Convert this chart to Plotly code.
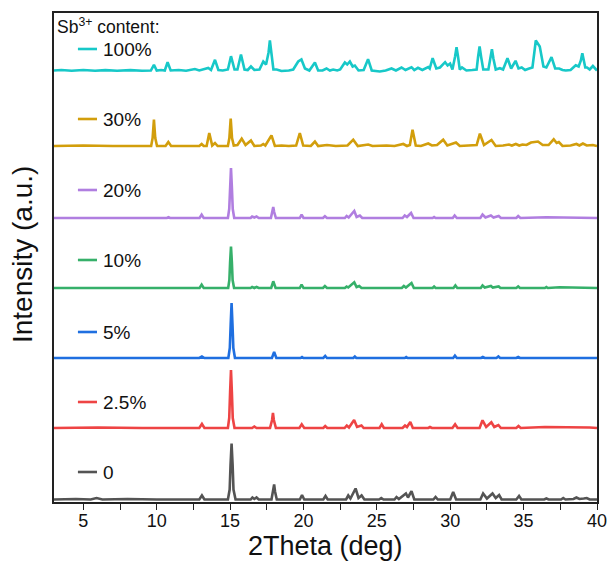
import plotly.graph_objects as go

# Stacked powder XRD patterns (2-theta in degrees, intensity in arbitrary units).
# Each pattern is a list of (2theta, intensity above its own baseline) vertices.

pattern_0 = [
    (3.0, 0), (4.5, 0.5), (5.5, 0), (5.9, 1.5), (6.3, 0), (8.0, 0.5), (10.0, 0), (12.0, 0.5),
    (12.9, 0), (13.08, 4), (13.25, 0), (14.85, 0), (14.97, 10), (15.03, 35), (15.1, 56),
    (15.17, 35), (15.23, 10), (15.37, 0), (16.4, 0),
    (16.52, 2), (16.65, 0.5), (16.8, 2), (16.95, 0), (17.82, 0), (17.94, 8), (18.0, 15),
    (18.06, 8), (18.18, 0),
    (19.75, 0), (19.9, 4.5), (20.05, 0), (21.35, 0), (21.5, 3.5), (21.65, 0), (22.9, 0),
    (23.05, 4), (23.2, 1), (23.55, 11), (23.75, 1.5), (23.96, 4), (24.15, 0), (25.15, 0),
    (25.3, 1.5), (25.45, 0), (26.2, 0), (26.34, 2.5), (26.5, 0.5), (26.98, 6), (27.12, 2),
    (27.36, 8.3), (27.55, 0), (28.85, 0), (29.0, 2.5), (29.15, 0), (30.0, 0), (30.2, 7.5),
    (30.4, 0), (32.05, 0), (32.24, 6), (32.5, 1), (32.88, 6), (33.1, 1.5), (33.33, 4.5),
    (33.5, 0), (34.5, 0), (34.69, 3.5), (34.85, 0), (36.4, 0), (36.55, 1), (36.7, 0),
    (37.55, 0), (37.7, 1.5), (37.85, 0), (38.4, 0.5), (38.6, 2), (38.8, 0.5), (39.1, 1),
    (39.3, 1.5), (39.5, 0), (40.0, 0),
]

pattern_2p5 = [
    (3.0, 0), (6.0, 0.5), (9.0, 0), (12.9, 0), (13.08, 4), (13.25, 0), (14.85, 0),
    (14.94, 10), (15.0, 36), (15.06, 58), (15.12, 36), (15.18, 10), (15.3, 0), (16.5, 0),
    (16.65, 1.5), (16.8, 0), (17.72, 0), (17.86, 8), (17.92, 15), (17.98, 8),
    (18.12, 0), (19.72, 0), (19.88, 3.7), (20.05, 0), (21.35, 0), (21.48, 2), (21.62, 0),
    (22.8, 0), (22.95, 2.5), (23.1, 0.5), (23.45, 8), (23.65, 1), (23.95, 2.5), (24.1, 0),
    (25.18, 0), (25.33, 3.7), (25.48, 0), (26.75, 0), (26.92, 2.5), (27.05, 1), (27.28, 6),
    (27.45, 0), (28.5, 0), (28.62, 1), (28.75, 0), (30.15, 0), (30.33, 3.7), (30.5, 0),
    (32.0, 0), (32.2, 7.7), (32.45, 1), (32.8, 5.7), (33.0, 1), (33.28, 3), (33.45, 0),
    (34.5, 0), (34.65, 2), (34.8, 0), (36.45, 1), (37.7, 1), (38.6, 1), (39.5, 0.5),
    (40.0, 0),
]

pattern_5 = [
    (3.0, 0), (12.9, 0), (13.08, 1.5), (13.25, 0), (14.88, 0), (14.98, 10), (15.04, 34),
    (15.1, 55), (15.16, 34), (15.22, 10), (15.33, 0),
    (17.85, 0), (18.0, 6), (18.15, 0), (19.8, 0), (19.9, 1), (20.0, 0), (21.35, 0),
    (21.48, 2), (21.6, 0), (23.4, 0), (23.5, 1.5), (23.6, 0), (26.9, 0), (27.0, 1),
    (27.1, 0), (30.2, 0), (30.32, 2.3), (30.45, 0), (32.1, 0), (32.22, 1), (32.35, 0),
    (33.15, 0), (33.28, 1.5), (33.4, 0), (34.5, 0), (34.63, 1), (34.75, 0), (40.0, 0),
]

pattern_10 = [
    (3.0, 0), (12.92, 0), (13.06, 3.3), (13.2, 0), (14.87, 0), (14.95, 8), (15.0, 26),
    (15.06, 41.5), (15.12, 26), (15.17, 8), (15.27, 0),
    (16.4, 0), (16.5, 1), (16.65, 0), (16.8, 1), (16.95, 0), (17.8, 0), (17.94, 6.7),
    (18.1, 0), (19.75, 0), (19.87, 3.5), (20.0, 0), (21.33, 0), (21.46, 2), (21.6, 0),
    (22.82, 0), (22.94, 1.5), (23.05, 0.5), (23.46, 5.7), (23.62, 1), (23.8, 2), (23.95, 0),
    (26.7, 0), (26.84, 2), (26.98, 0.5), (27.36, 5), (27.52, 0), (28.8, 0), (28.9, 1.5),
    (29.0, 0), (30.22, 0), (30.35, 2.5), (30.48, 0), (32.08, 0), (32.2, 2.5), (32.35, 0.5),
    (32.77, 2), (32.9, 0.5), (33.3, 1.5), (33.42, 0), (34.5, 0), (34.63, 1.5), (34.75, 0),
    (36.45, 0), (36.55, 1), (36.65, 0), (37.45, 0.7), (38.6, 0.5), (40.0, 0),
]

pattern_20 = [
    (3.0, 0), (10.7, 0), (10.8, 0.8), (10.9, 0), (12.92, 0), (13.06, 3.3), (13.2, 0),
    (14.85, 0), (14.94, 9), (15.0, 31), (15.06, 50), (15.12, 31), (15.18, 9), (15.28, 0),
    (16.4, 0), (16.5, 1.5), (16.65, 0.5), (16.8, 1.5),
    (16.95, 0), (17.78, 0), (17.88, 6), (17.94, 11), (18.0, 6), (18.12, 0), (19.75, 0),
    (19.87, 3.3), (20.0, 0),
    (21.33, 0), (21.46, 1.8), (21.6, 0), (22.82, 0), (22.94, 2), (23.08, 0.5), (23.46, 7),
    (23.62, 1), (23.84, 2.5), (24.0, 0), (26.75, 0), (26.9, 2.5), (27.05, 1), (27.33, 5),
    (27.5, 0), (28.8, 0), (28.9, 1), (29.0, 0), (30.17, 0), (30.3, 2.5), (30.45, 0),
    (32.05, 0), (32.2, 3.5), (32.4, 0.5), (32.77, 2.5), (32.95, 0.5), (33.3, 2), (33.45, 0),
    (34.5, 0), (34.63, 2), (34.78, 0), (36.55, 0.7), (38.5, 0.7), (40.0, 0),
]

pattern_30 = [
    (3.0, 0), (5.0, 0.5), (7.0, 0), (9.0, 0.5), (9.62, 0), (9.72, 8), (9.77, 18), (9.81, 26.5),
    (9.85, 18), (9.9, 8), (10.02, 0),
    (10.6, 0), (10.79, 4), (10.98, 0), (12.9, 0), (13.06, 2), (13.2, 0), (13.4, 0),
    (13.58, 13), (13.78, 0.5), (13.97, 3), (14.15, 0), (14.85, 0), (14.95, 8), (15.0, 19),
    (15.04, 27.3), (15.08, 19), (15.13, 8),
    (15.25, 0.5), (15.5, 1), (15.79, 7.3), (16.05, 1), (16.42, 5.5), (16.65, 0), (17.1, 0.5),
    (17.26, 2), (17.4, 0.5), (17.82, 10.7), (18.05, 0), (18.5, 0.5), (19.0, 0), (19.5, 0.5),
    (19.75, 13), (19.98, 0.5), (20.5, 0), (20.78, 4.5), (21.0, 0), (21.6, 1), (22.2, 0),
    (23.0, 0.5), (23.39, 6.3), (23.7, 0), (24.41, 1.5), (24.7, 0), (25.66, 0.5), (26.2, 0),
    (26.8, 2), (27.05, 0), (27.25, 1), (27.43, 16.3), (27.65, 0.5), (28.0, 0), (28.5, 2.5),
    (28.75, 0.5), (29.1, 1), (29.52, 6.3), (29.8, 0.5), (30.39, 3.5), (30.65, 0), (31.5, 0.5),
    (31.8, 1), (32.02, 12.3), (32.3, 1), (32.81, 6), (33.1, 0), (33.6, 0.5), (34.0, 1.5),
    (34.2, 0.5), (34.47, 2), (34.7, 0.5), (34.92, 1.5), (35.2, 1), (35.5, 3.5), (35.98, 4.5),
    (36.3, 1), (36.7, 1), (37.05, 6.7), (37.25, 3), (37.4, 4), (37.65, 0), (38.2, 0.5),
    (38.6, 2), (38.8, 0.5), (39.04, 2.5), (39.3, 0.5), (39.72, 1), (40.0, 0),
]

pattern_100 = [
    (3.0, 0), (3.5, 0.5), (4.2, -0.3), (5.0, 0.5), (5.8, -0.3), (6.5, 0.4), (7.3, -0.2),
    (8.2, 0.4), (9.0, -0.2), (9.6, 0), (9.81, 5.7), (10.0, 0), (10.3, 0.5), (10.55, 0),
    (10.74, 8.3), (10.95, 0), (11.5, 0.5), (12.0, -0.3), (12.6, 1.5), (12.9, 0), (13.51, 2.5),
    (13.7, 0.5), (13.97, 10.7), (14.2, 0.5), (14.5, 0), (14.85, 1), (15.06, 14.3), (15.3, 1),
    (15.5, 1), (15.74, 16), (15.98, 1), (16.2, 0.5), (16.42, 4), (16.65, 0.5), (17.0, 1),
    (17.26, 9), (17.45, 6), (17.62, 18), (17.71, 30), (17.8, 18), (17.95, 1), (18.17, 1),
    (18.5, -0.5), (19.0, 0),
    (19.3, 1), (19.64, 9), (19.86, 11), (20.1, 2), (20.4, 0), (20.78, 8), (21.0, 0),
    (21.3, 0), (21.57, 2), (21.8, 0), (22.02, 1), (22.3, 0), (22.5, 1), (22.82, 8),
    (22.98, 6), (23.16, 9), (23.35, 4), (23.5, 5), (23.75, 0), (24.1, 0.5), (24.4, 11.3),
    (24.65, 0), (25.2, -1), (25.6, 0), (26.0, 2), (26.3, 0), (26.68, 3), (26.95, 0.5),
    (27.36, 3.3), (27.55, 0.5), (27.8, 2.7), (28.1, 0.5), (28.5, 3.5), (28.6, 2), (28.8, 12.3),
    (29.05, 2), (29.3, 3), (29.65, 8.3), (29.82, 5), (29.99, 7), (30.15, 1), (30.33, 14),
    (30.43, 23.3), (30.53, 14),
    (30.65, 1), (30.8, 3), (31.1, 0), (31.5, 0.5), (31.8, 1), (31.9, 14), (32.0, 24),
    (32.1, 14), (32.25, 1), (32.6, 1), (32.74, 12), (32.84, 21.3), (32.94, 12), (33.1, 1),
    (33.38, 2.3), (33.6, 1), (33.9, 12.3), (34.15, 2),
    (34.45, 9.7), (34.65, 2), (34.87, 3), (35.1, 0.5), (35.38, 2), (35.6, 3), (35.73, 18),
    (35.83, 30), (36.1, 24), (36.35, 4), (36.55, 3), (36.9, 13.3), (37.15, 2), (37.42, 2),
    (37.65, 0.5), (37.87, 0), (38.2, 0.5), (38.55, 5.3), (38.75, 4), (38.9, 10), (39.0, 17.3),
    (39.1, 8), (39.2, 3), (39.32, 3), (39.5, 1), (39.72, 4.5), (39.9, 1), (40.0, 0),
]

labels = ["0", "2.5%", "5%", "10%", "20%", "30%", "100%"]
patterns = [pattern_0, pattern_2p5, pattern_5, pattern_10, pattern_20, pattern_30, pattern_100]
offsets = [2.5, 74, 144, 214, 284, 356, 431.5]
legend_y = [30, 100, 170, 242, 312, 383, 453]
colors = ["#545454", "#ee4444", "#1f6fe0", "#36b06a", "#b07ee0", "#d29e0c", "#17c8c8"]

FONT = "Arial, 'Liberation Sans', sans-serif"

fig = go.Figure()
for name, pat, off, col in zip(labels, patterns, offsets, colors):
    xs = [p[0] for p in pat]
    ys = [p[1] + off for p in pat]
    fig.add_trace(go.Scatter(x=xs, y=ys, mode="lines", name=name,
                             line=dict(color=col, width=2.6), showlegend=False))

# In-plot legend: short line sample followed by the label
for name, ly, col in zip(labels, legend_y, colors):
    fig.add_shape(type="line", xref="x", yref="y", x0=4.63, x1=5.93, y0=ly, y1=ly,
                  line=dict(color=col, width=2.6))
    fig.add_annotation(x=6.2, y=ly, xref="x", yref="y", text=name, showarrow=False,
                       xanchor="left", yanchor="middle",
                       font=dict(family=FONT, size=19, color="#111111"))

fig.add_annotation(x=3.1, y=476, xref="x", yref="y", text="Sb<sup>3+</sup> content:",
                   showarrow=False, xanchor="left", yanchor="middle",
                   font=dict(family=FONT, size=17.5, color="#111111"))

# Axis titles
fig.add_annotation(x=0.5, y=0, xref="paper", yref="paper", text="2Theta (deg)",
                   showarrow=False, xanchor="center", yanchor="middle", yshift=-44,
                   font=dict(family=FONT, size=27, color="#111111"))
fig.add_annotation(x=0, y=0.505, xref="paper", yref="paper", text="Intensity (a.u.)",
                   showarrow=False, xanchor="center", yanchor="middle", xshift=-32,
                   textangle=-90, font=dict(family=FONT, size=28, color="#111111"))

fig.update_layout(
    width=611, height=574,
    margin=dict(l=54, r=14, t=13, b=72),
    paper_bgcolor="white", plot_bgcolor="white",
    font=dict(family=FONT, color="#111111"),
)
fig.update_xaxes(
    range=[3, 40], tick0=0, dtick=5, ticks="outside", ticklen=6, tickwidth=1.2,
    tickcolor="#222222", showline=True, linecolor="#222222", linewidth=1.5, mirror=True,
    showgrid=False, zeroline=False, automargin=False, ticklabelstandoff=-4,
    tickfont=dict(family=FONT, size=18, color="#111111"),
    minor=dict(dtick=2.5, tick0=0, ticks="outside", ticklen=6, tickcolor="#222222",
               tickwidth=1.2, showgrid=False),
)
fig.update_yaxes(
    range=[0, 489], showticklabels=False, ticks="", showline=True, linecolor="#222222",
    linewidth=1.5, mirror=True, showgrid=False, zeroline=False, automargin=False,
)

fig.write_html("out.html")
